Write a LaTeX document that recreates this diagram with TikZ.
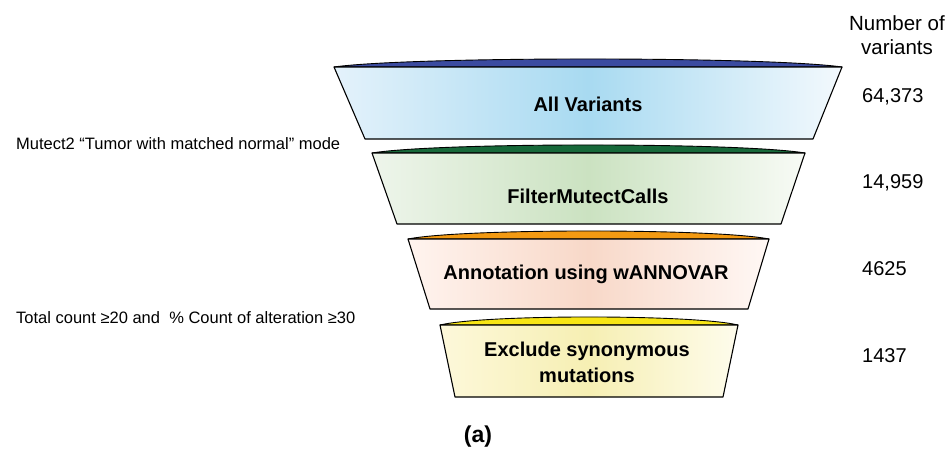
\documentclass[tikz,border=0pt]{standalone}
\usepackage{fontspec}
\setmainfont{Liberation Sans}

% colours of the four funnel stages: lens top, and left / middle / right of the body gradient
\definecolor{sAlens}{HTML}{3B4BA0}
\definecolor{sAl}{HTML}{E4F2FB}
\definecolor{sAm}{HTML}{A8DAF1}
\definecolor{sAr}{HTML}{F3F9FD}
\definecolor{sBlens}{HTML}{17693A}
\definecolor{sBl}{HTML}{EEF5EB}
\definecolor{sBm}{HTML}{CBE2C1}
\definecolor{sBr}{HTML}{F8FBF6}
\definecolor{sClens}{HTML}{F39A12}
\definecolor{sCl}{HTML}{FFF4EF}
\definecolor{sCm}{HTML}{F8D8C8}
\definecolor{sCr}{HTML}{FFF8F5}
\definecolor{sDlens}{HTML}{F7E514}
\definecolor{sDl}{HTML}{FDF8DA}
\definecolor{sDm}{HTML}{F6EFB3}
\definecolor{sDr}{HTML}{FEFCEC}

% one funnel stage: top-left x, top-right x, top y, bottom-left x, bottom-right x, bottom y, colour prefix
\newcommand\funnelstage[7]{%
  \pgfmathsetmacro\stagewidth{#2-#1}%
  \filldraw[lenstop, fill=#7lens]
    (#1,#3) .. controls ({#1+0.15*\stagewidth},{#3-10.7}) and ({#2-0.15*\stagewidth},{#3-10.7}) .. (#2,#3) -- cycle;
  \draw[stagebody, left color=#7l, right color=#7r, middle color=#7m]
    (#1,#3) -- (#2,#3) -- (#5,#6) -- (#4,#6) -- cycle;
}

\begin{document}
\begin{tikzpicture}[x=1pt, y=-1pt,
  stagebody/.style={draw=black, line width=1.1pt, line join=round},
  lenstop/.style={draw=black, line width=0.9pt, line join=round},
  stagelabel/.style={font=\fontsize{20}{26}\selectfont\bfseries, align=center, inner sep=0pt},
  countlabel/.style={font=\fontsize{20}{24}\selectfont, anchor=west, inner sep=0pt},
  headlabel/.style={font=\fontsize{20.5}{24}\selectfont, align=center, inner sep=0pt},
  notelabel/.style={font=\fontsize{16.5}{20}\selectfont, anchor=west, inner sep=0pt},
  caplabel/.style={font=\fontsize{23}{28}\selectfont\bfseries, inner sep=0pt}]
  \useasboundingbox[fill=white] (0,0) rectangle (952,452);

  % funnel stages, widest first
  \funnelstage{334}{842}{67}{365}{813}{139}{sA}
  \funnelstage{372}{805}{153}{397}{781}{224}{sB}
  \funnelstage{408}{769}{239}{430}{748}{309}{sC}
  \funnelstage{440}{738}{325}{455}{723}{397}{sD}

  % stage labels
  \node[stagelabel] (allvar) at (588,104) {All Variants};
  \node[stagelabel] (filter) at (588,196) {FilterMutectCalls};
  \node[stagelabel] (annot)  at (586,274) {Annotation using wANNOVAR};
  \node[stagelabel] (exclude) at (587,362) {Exclude synonymous\\mutations};

  % variant counts
  \node[headlabel] (head) at (897,35) {Number of\\variants};
  \node[countlabel] (nA) at (862,97) {64,373};
  \node[countlabel] (nB) at (862,183) {14,959};
  \node[countlabel] (nC) at (862,269) {4625};
  \node[countlabel] (nD) at (862,356) {1437};

  % filtering notes
  \node[notelabel] (noteA) at (16,144) {Mutect2 “Tumor with matched normal” mode};
  \node[notelabel] (noteB) at (16,318) {Total count ≥20 and \ \% Count of alteration ≥30};

  \node[caplabel] (cap) at (478,437) {(a)};
\end{tikzpicture}
\end{document}
